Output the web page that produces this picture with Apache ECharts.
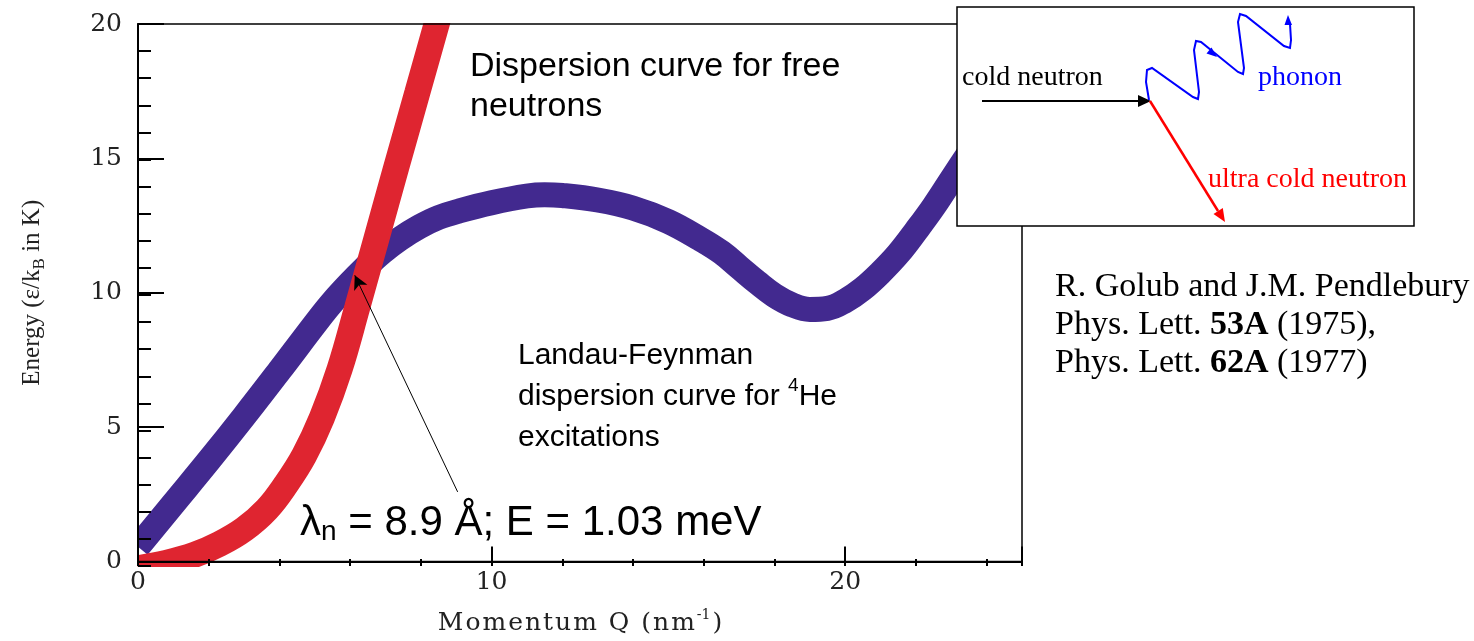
<!DOCTYPE html>
<html>
<head>
<meta charset="utf-8">
<script src="https://cdn.jsdelivr.net/npm/echarts@6/dist/echarts.min.js"></script>
<style>
html, body { margin: 0; padding: 0; background: #fff; }
#main { width: 1474px; height: 641px; }
</style>
</head>
<body>
<div id="main"></div>
<script>
// Landau-Feynman 色散曲线 (4He 激发)
var landauQ = [0, 1.0, 2.0, 3.0, 4.0, 5.1, 5.5, 5.95, 6.4, 6.9, 7.4, 7.95, 8.5, 9.1, 10.0, 11.0, 11.5, 12.0, 13.0, 14.0, 15.0, 15.9, 16.5, 17.0, 17.5, 18.0, 18.5, 19.0, 19.5, 20.0, 20.5, 21.0, 21.5, 22.0, 22.5, 23.0, 23.5, 24.0, 25.0];
var landauE = [0.55, 2.15, 3.75, 5.4, 7.1, 9.0, 9.65, 10.3, 10.9, 11.5, 12.0, 12.45, 12.8, 13.05, 13.35, 13.6, 13.65, 13.62, 13.45, 13.15, 12.65, 12.0, 11.5, 10.95, 10.4, 9.9, 9.55, 9.38, 9.42, 9.7, 10.15, 10.75, 11.45, 12.3, 13.2, 14.2, 15.2, 16.2, 18.2];

// 自由中子色散曲线
var freeQ = [0, 0.8, 1.6, 2.3, 3.0, 3.65, 4.2, 4.7, 5.2, 5.7, 6.2, 6.75, 7.3, 7.9, 8.5, 8.9];
var freeE = [-0.25, -0.05, 0.25, 0.65, 1.2, 1.95, 2.9, 3.95, 5.35, 7.15, 9.45, 12.05, 14.65, 17.45, 20.25, 22.1];

// 刻度标签
var xLabels = [0, 10, 20];
var yLabels = [0, 5, 10, 15, 20];

// 箭头: 从文字指向两条曲线的交点
var arrowFrom = [9.04, 2.59];
var arrowTo = [6.13, 10.65];

function pairs(xs, ys) {
    return xs.map(function (x, i) { return [x, ys[i]]; });
}

// 字间距: 每个字符一个 rich 片段
function spaced(s) {
    return s.split('').map(function (c) { return '{t|' + c + '}'; }).join('');
}

var echarts_1 = echarts.init(document.getElementById('main'));

var labelFont = { fontFamily: 'DejaVu Serif', fontSize: 25, color: '#222' };

var option = {
    animation: false,
    grid: [
        { left: 138, top: 24, width: 884, height: 542, show: true, borderColor: '#000', borderWidth: 1.5, z: 10 },
        { left: 138, top: 24, width: 884, height: 542 }
    ],
    xAxis: [
        {
            type: 'value', gridIndex: 0, min: 0, max: 25, interval: 10, z: 10,
            name: spaced('Momentum Q (nm') + '{s|-1}' + spaced(')'),
            nameLocation: 'middle', nameGap: 47,
            nameTextStyle: {
                rich: {
                    t: { fontFamily: 'DejaVu Serif', fontSize: 25, color: '#222', lineHeight: 30, padding: [0, 1] },
                    s: { fontFamily: 'DejaVu Serif', fontSize: 14, color: '#222', verticalAlign: 'top', lineHeight: 30, padding: [0, 1] }
                }
            },
            axisLine: { lineStyle: { color: '#000', width: 2 } },
            axisTick: { inside: true, length: 15, lineStyle: { color: '#000', width: 2 } },
            axisLabel: Object.assign({ margin: 8, formatter: function (v) { return xLabels.indexOf(v) >= 0 ? String(v) : ''; } }, labelFont),
            splitLine: { show: false }
        },
        {
            type: 'value', gridIndex: 1, min: 0, max: 25, interval: 2, z: 10,
            axisLine: { show: false },
            axisTick: { inside: true, length: 7, lineStyle: { color: '#000', width: 2 } },
            axisLabel: { show: false },
            splitLine: { show: false }
        }
    ],
    yAxis: [
        {
            type: 'value', gridIndex: 0, min: 0, max: 20, interval: 5, z: 10,
            name: '{t|Energy (ε/k}{s|B}{t| in K)}',
            nameLocation: 'middle', nameGap: 90, nameRotate: 90,
            nameTextStyle: {
                rich: {
                    t: { fontFamily: 'Liberation Serif', fontSize: 25, color: '#222', lineHeight: 32 },
                    s: { fontFamily: 'Liberation Serif', fontSize: 17, color: '#222', verticalAlign: 'bottom', lineHeight: 32 }
                }
            },
            axisLine: { lineStyle: { color: '#000', width: 2 } },
            axisTick: { inside: true, length: 26, lineStyle: { color: '#000', width: 2 } },
            axisLabel: Object.assign({ margin: 16, formatter: function (v) { return yLabels.indexOf(v) >= 0 ? String(v) : ''; } }, labelFont),
            splitLine: { show: false }
        },
        {
            type: 'value', gridIndex: 1, min: 0, max: 20, interval: 1, z: 10,
            axisLine: { show: false },
            axisTick: { inside: true, length: 13, lineStyle: { color: '#000', width: 2 } },
            axisLabel: { show: false },
            splitLine: { show: false }
        }
    ],
    series: [
        {
            name: 'Landau-Feynman',
            type: 'line',
            xAxisIndex: 0, yAxisIndex: 0,
            data: pairs(landauQ, landauE),
            smooth: 0.4,
            symbol: 'none',
            lineStyle: { color: '#42298f', width: 25, cap: 'butt' }
        },
        {
            name: 'free neutrons',
            type: 'line',
            xAxisIndex: 0, yAxisIndex: 0,
            data: pairs(freeQ, freeE),
            smooth: 0.4,
            symbol: 'none',
            lineStyle: { color: '#df2530', width: 26, cap: 'butt' },
            markLine: {
                silent: true,
                symbol: ['none', 'arrow'],
                symbolSize: [11, 14],
                label: { show: false },
                lineStyle: { color: '#000', width: 1, type: 'solid' },
                data: [[{ coord: arrowFrom }, { coord: arrowTo }]]
            }
        }
    ],
    graphic: [
        // 遮住超出坐标区的粗线
        { type: 'rect', z: 5, shape: { x: 0, y: 0, width: 137, height: 641 }, style: { fill: '#fff' } },
        { type: 'rect', z: 5, shape: { x: 0, y: 567, width: 1474, height: 74 }, style: { fill: '#fff' } },
        { type: 'rect', z: 5, shape: { x: 0, y: 0, width: 1474, height: 23 }, style: { fill: '#fff' } },
        { type: 'rect', z: 5, shape: { x: 1023, y: 0, width: 451, height: 641 }, style: { fill: '#fff' } },

        // 注释文字
        {
            type: 'text', z: 100, x: 470, y: 87,
            style: {
                text: 'Dispersion curve for free\nneutrons',
                fontFamily: 'Liberation Sans', fontSize: 34, lineHeight: 40,
                fill: '#000', verticalAlign: 'middle'
            }
        },
        {
            type: 'text', z: 100, x: 518, y: 397,
            style: {
                text: '{t|Landau-Feynman}\n{t|dispersion curve for }{s|4}{t|He}\n{t|excitations}',
                verticalAlign: 'middle',
                rich: {
                    t: { fontFamily: 'Liberation Sans', fontSize: 30, lineHeight: 41, fill: '#000' },
                    s: { fontFamily: 'Liberation Sans', fontSize: 19, lineHeight: 41, fill: '#000', verticalAlign: 'top' }
                }
            }
        },
        {
            type: 'text', z: 100, x: 300, y: 523,
            style: {
                text: '{t|λ}{s|n}{t| = 8.9 Å; E = 1.03 meV}',
                verticalAlign: 'middle',
                rich: {
                    t: { fontFamily: 'Liberation Sans', fontSize: 42, lineHeight: 46, fill: '#000' },
                    s: { fontFamily: 'Liberation Sans', fontSize: 28, lineHeight: 46, fill: '#000', verticalAlign: 'bottom' }
                }
            }
        },
        {
            type: 'text', z: 100, x: 1055, y: 325,
            style: {
                text: '{t|R. Golub and J.M. Pendlebury}\n{t|Phys. Lett. }{b|53A}{t| (1975),}\n{t|Phys. Lett. }{b|62A}{t| (1977)}',
                verticalAlign: 'middle',
                rich: {
                    t: { fontFamily: 'Liberation Serif', fontSize: 34, lineHeight: 38, fill: '#000' },
                    b: { fontFamily: 'Liberation Serif', fontSize: 34, lineHeight: 38, fill: '#000', fontWeight: 'bold' }
                }
            }
        },

        // 插图: 冷中子 -> 超冷中子 + 声子
        { type: 'rect', z: 100, shape: { x: 957, y: 7, width: 457, height: 219 }, style: { fill: '#fff', stroke: '#000', lineWidth: 1.5 } },
        { type: 'text', z: 101, x: 962, y: 78, style: { text: 'cold neutron', fontFamily: 'Liberation Serif', fontSize: 28, fill: '#000', verticalAlign: 'middle' } },
        { type: 'line', z: 101, shape: { x1: 982, y1: 101, x2: 1140, y2: 101 }, style: { stroke: '#000', lineWidth: 2 } },
        { type: 'polygon', z: 101, shape: { points: [[1138, 95], [1151, 101], [1138, 107]] }, style: { fill: '#000' } },
        { type: 'line', z: 101, shape: { x1: 1150, y1: 101, x2: 1218, y2: 211 }, style: { stroke: '#ff0000', lineWidth: 2.5 } },
        { type: 'polygon', z: 101, shape: { points: [[1213.5, 213.9], [1222.8, 208.1], [1225, 222]] }, style: { fill: '#ff0000' } },
        {
            type: 'polyline', z: 101,
            shape: {
                points: [[1149, 100], [1146, 82], [1147, 70], [1152, 68], [1193, 97], [1198, 99], [1199, 92], [1194, 50],
                         [1196, 41], [1201, 42], [1238, 72], [1243, 74], [1244, 68], [1238, 22], [1240, 14], [1246, 16],
                         [1284, 46], [1290, 48], [1291, 40], [1290, 24]]
            },
            style: { fill: null, stroke: '#0000ff', lineWidth: 2 }
        },
        { type: 'polygon', z: 101, shape: { points: [[1206.5, 53.6], [1211.5, 47.4], [1217, 57]] }, style: { fill: '#0000ff' } },
        { type: 'polygon', z: 101, shape: { points: [[1284.5, 25], [1292, 25], [1288, 15]] }, style: { fill: '#0000ff' } },
        { type: 'text', z: 101, x: 1258, y: 78, style: { text: 'phonon', fontFamily: 'Liberation Serif', fontSize: 28, fill: '#0000ff', verticalAlign: 'middle' } },
        { type: 'text', z: 101, x: 1208, y: 180, style: { text: 'ultra cold neutron', fontFamily: 'Liberation Serif', fontSize: 28, fill: '#ff0000', verticalAlign: 'middle' } }
    ]
};

echarts_1.setOption(option);
</script>
</body>
</html>
